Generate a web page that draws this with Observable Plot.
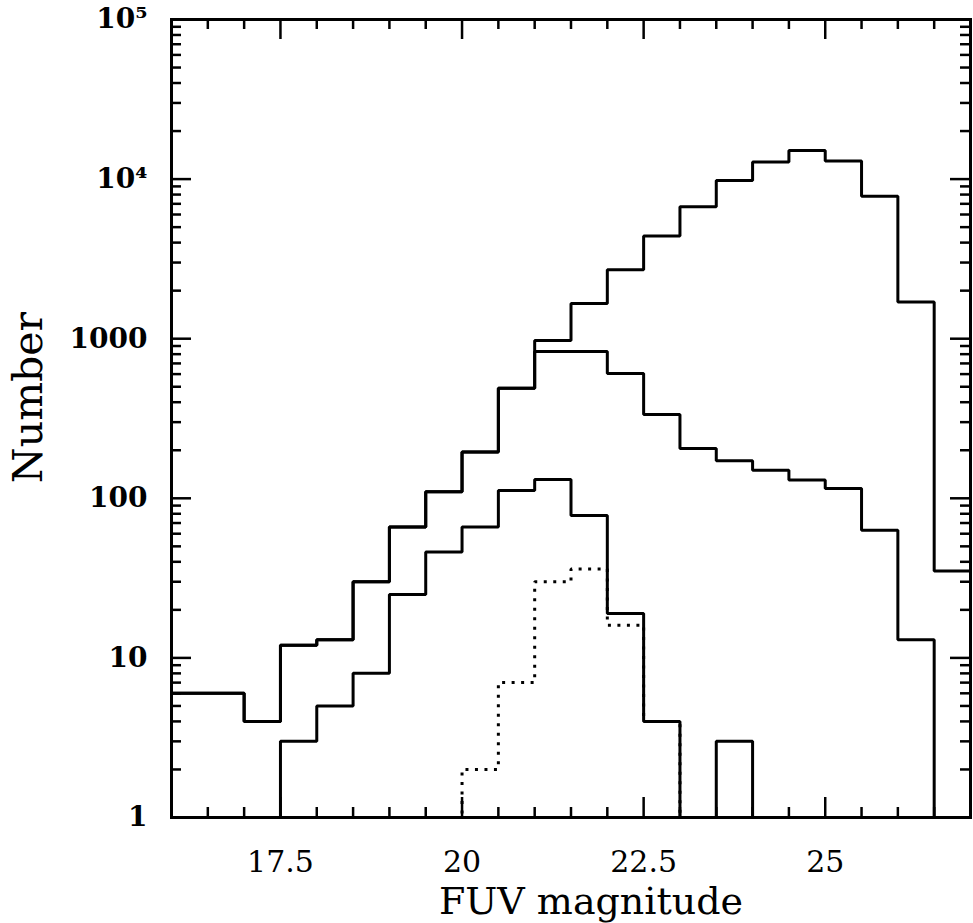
<!DOCTYPE html>
<html><head><meta charset="utf-8">
<script src="https://cdn.jsdelivr.net/npm/d3@7"></script>
<script src="https://cdn.jsdelivr.net/npm/@observablehq/plot@0.6"></script>
<style>body{margin:0;background:#fff}#chart svg{display:block}</style>
</head><body><div id="chart"></div>
<script>
// Bin lower edges (FUV magnitude), bins are 0.5 mag wide
const binLo = [16,16.5,17,17.5,18,18.5,19,19.5,20,20.5,21,21.5,22,22.5,23,23.5,24,24.5,25,25.5,26,26.5];
const binWidth = 0.5;
// Counts per bin
const allSources   = [6,6,4,12,13,30,66,110,195,490,975,1660,2700,4400,6700,9800,12800,15100,13000,7800,1700,35];
const middleSeries = [6,6,4,12,13,30,66,110,195,490,830,830,605,335,205,172,150,130,115,63,13,0];
const lowerSeries  = [0,0,0,3,5,8,25,46,66,112,131,78,19,4,0,3,0,0,0,0,0,0];
const dottedSeries = [0,0,0,0,0,0,0,0,2,7,30,36,16,4,0,0,0,0,0,0,0,0];

const xDomain = [16, 27];
const yDomain = [1, 1e5];
const xTickValues = [17.5, 20, 22.5, 25];
const xTickLabels = ["17.5", "20", "22.5", "25"];
const yTickValues = [1, 10, 100, 1000, 10000, 100000];
const yTickLabels = ["1", "10", "100", "1000", "10\u2074", "10\u2075"];
const xMinorTicks = d3.range(16.5, 27, 0.5).filter(v => !xTickValues.includes(v));
const yMinorTicks = [1, 10, 100, 1000, 10000].flatMap(d => [2,3,4,5,6,7,8,9].map(k => k * d));

// zero-count bins sit on the floor of the log axis
function steps(counts) {
  const pts = binLo.map((x, i) => ({x, y: Math.max(counts[i], yDomain[0])}));
  pts.push({x: binLo[binLo.length - 1] + binWidth, y: pts[pts.length - 1].y});
  return pts;
}

const W = 973, H = 923, mL = 171, mR = 3, mT = 19, mB = 106;
const innerW = W - mL - mR, innerH = H - mT - mB;
const lineStyle = {x: "x", y: "y", curve: "step-after", stroke: "black", strokeWidth: 3, strokeLinejoin: "miter", strokeLinecap: "butt"};
const tickW = 2.5, minorLen = 10, majorLen = 20;
const serif = "DejaVu Serif";

const chart = Plot.plot({
  width: W, height: H,
  marginLeft: mL, marginRight: mR, marginTop: mT, marginBottom: mB,
  x: {domain: xDomain},
  y: {type: "log", domain: yDomain},
  marks: [
    Plot.line(steps(allSources), lineStyle),
    Plot.line(steps(middleSeries), lineStyle),
    Plot.line(steps(lowerSeries), lineStyle),
    Plot.line(steps(dottedSeries), {...lineStyle, strokeDasharray: "3,6.5"}),
    // inward ticks on all four sides
    Plot.ruleX(xMinorTicks, {insetTop: innerH - minorLen, strokeWidth: tickW}),
    Plot.ruleX(xMinorTicks, {insetBottom: innerH - minorLen, strokeWidth: tickW}),
    Plot.ruleX(xTickValues, {insetTop: innerH - majorLen, strokeWidth: tickW}),
    Plot.ruleX(xTickValues, {insetBottom: innerH - majorLen, strokeWidth: tickW}),
    Plot.ruleY(yMinorTicks, {insetRight: innerW - minorLen, strokeWidth: tickW}),
    Plot.ruleY(yMinorTicks, {insetLeft: innerW - minorLen, strokeWidth: tickW}),
    Plot.ruleY(yTickValues, {insetRight: innerW - majorLen, strokeWidth: tickW}),
    Plot.ruleY(yTickValues, {insetLeft: innerW - majorLen, strokeWidth: tickW}),
    Plot.frame({stroke: "black", strokeWidth: 3}),
    Plot.axisX(xTickValues, {tickSize: 0, tickPadding: 33, label: null,
      tickFormat: v => xTickLabels[xTickValues.indexOf(v)],
      fontFamily: serif, fontSize: 30, fill: "black"}),
    Plot.axisY(yTickValues, {tickSize: 0, tickPadding: 24, label: null,
      tickFormat: v => yTickLabels[yTickValues.indexOf(v)],
      fontFamily: serif, fontWeight: "bold", fontSize: 28, fill: "black"}),
    Plot.text(["FUV magnitude"], {frameAnchor: "bottom", dx: 20, dy: 70, lineAnchor: "top", textAnchor: "middle",
      fontFamily: serif, fontSize: 38, fill: "black"}),
    Plot.text(["Number"], {frameAnchor: "left", dx: -143, dy: -21, rotate: -90, lineAnchor: "middle", textAnchor: "middle",
      fontFamily: serif, fontSize: 41, fill: "black"})
  ]
});
document.getElementById("chart").append(chart);
</script>
</body></html>
